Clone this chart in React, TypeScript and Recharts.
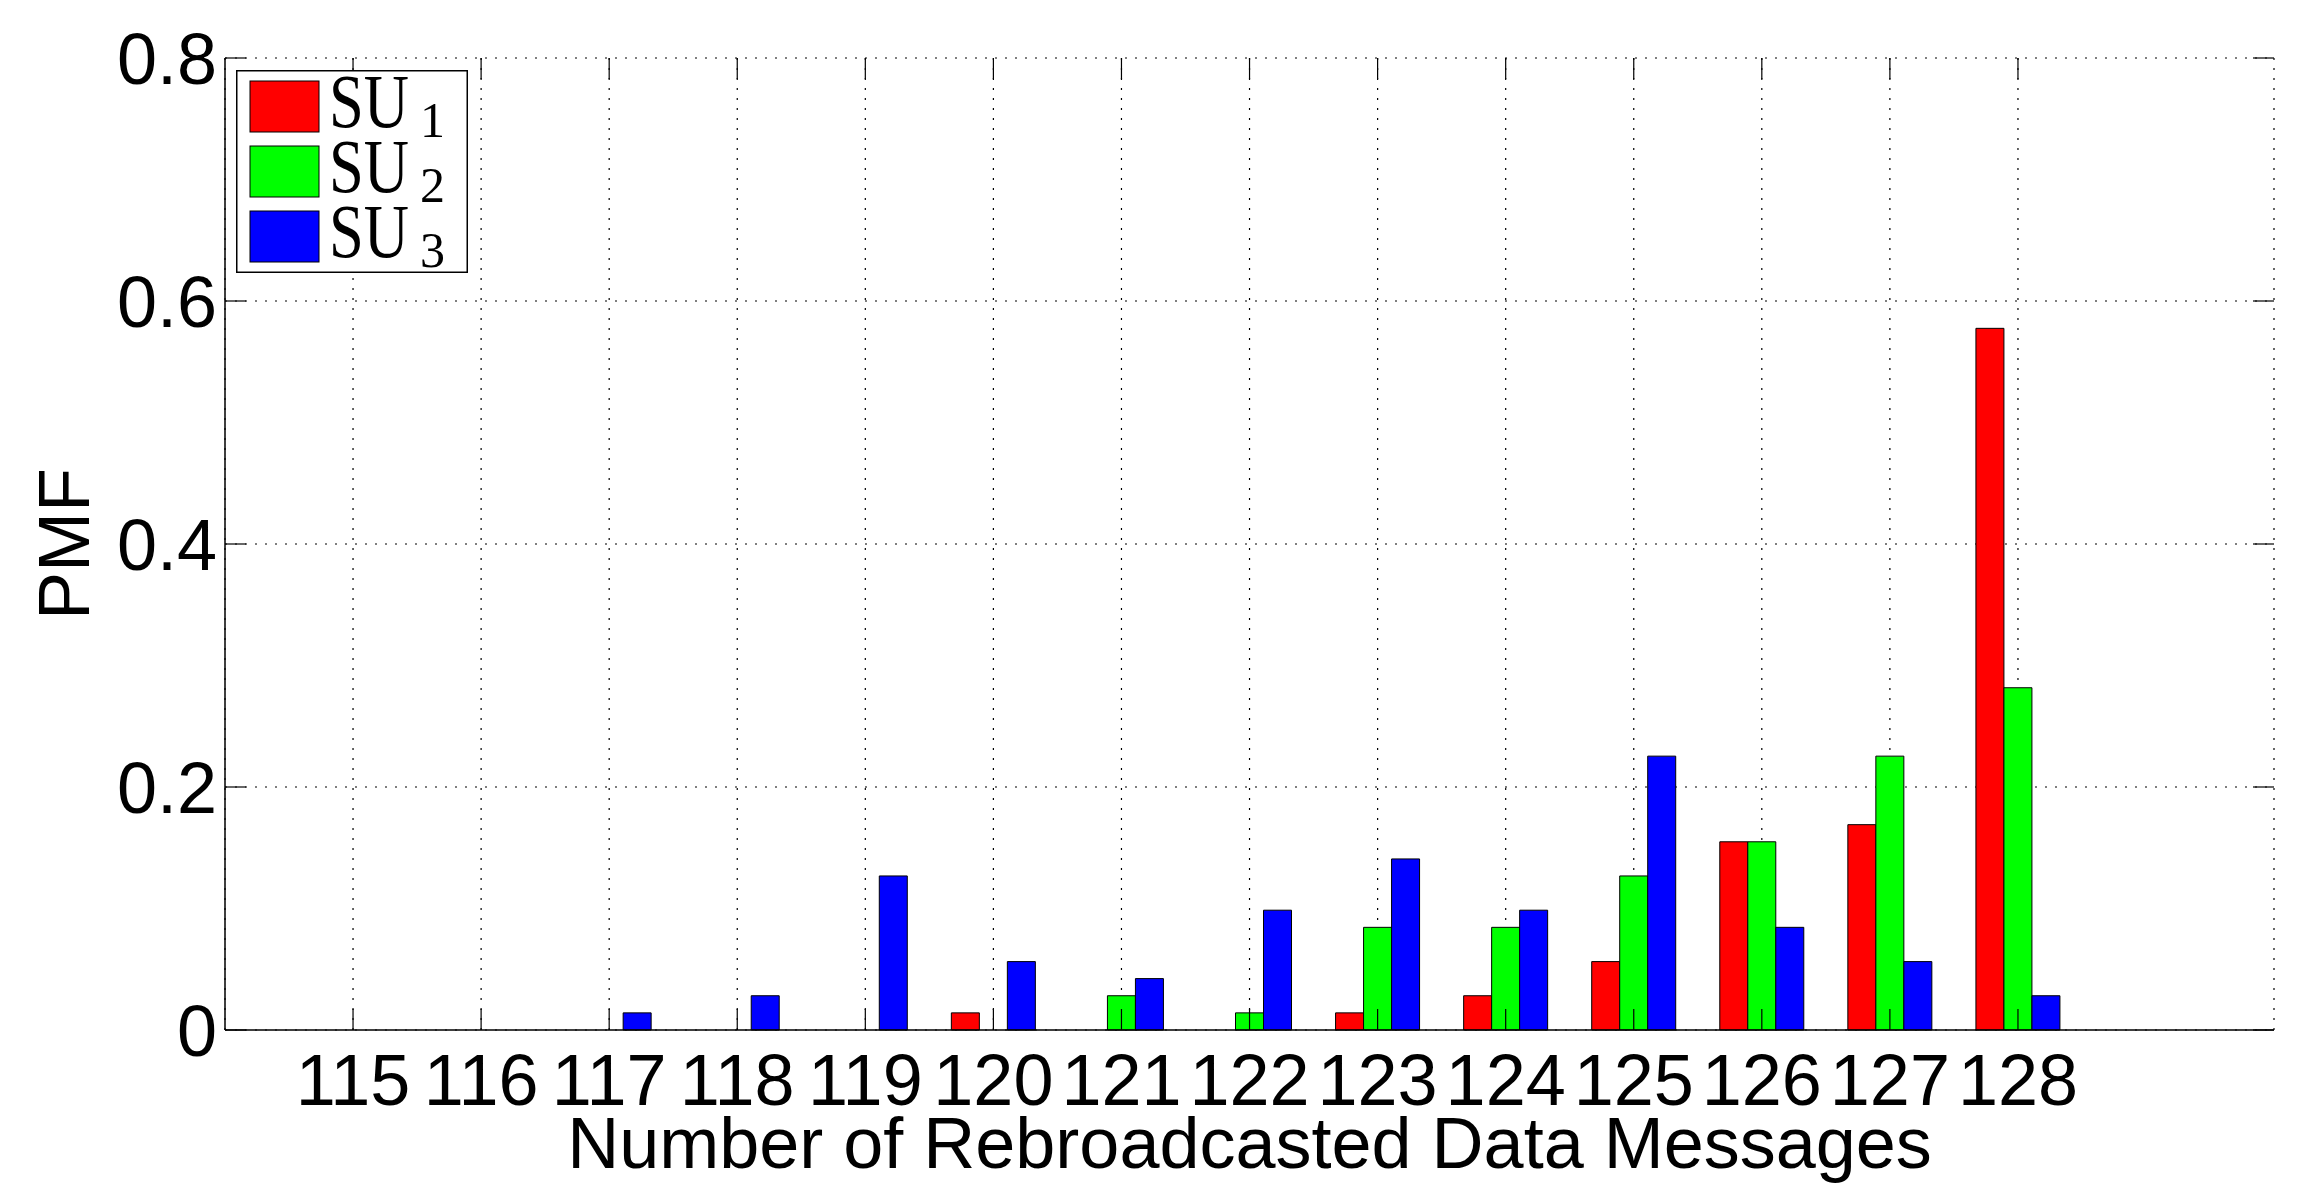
import React from "react";
import { BarChart, Bar, XAxis, YAxis, CartesianGrid, Legend, Label } from "recharts";

// number of rebroadcasted data messages (x categories)
const categories = [115, 116, 117, 118, 119, 120, 121, 122, 123, 124, 125, 126, 127, 128];

// PMF per secondary user
const su1 = [0, 0, 0, 0, 0, 0.0141, 0, 0, 0.0141, 0.0282, 0.0563, 0.1549, 0.169, 0.5775];
const su2 = [0, 0, 0, 0, 0, 0, 0.0282, 0.0141, 0.0845, 0.0845, 0.1268, 0.1549, 0.2254, 0.2817];
const su3 = [0, 0, 0.0141, 0.0282, 0.1268, 0.0563, 0.0423, 0.0986, 0.1408, 0.0986, 0.2254, 0.0845, 0.0563, 0.0282];

const seriesNames = ["SU1", "SU2", "SU3"];
const seriesColors = ["#ff0000", "#00ff00", "#0000ff"];
const yTicks = [0, 0.2, 0.4, 0.6, 0.8];

const data = categories.map((n, i) => ({ n, su1: su1[i], su2: su2[i], su3: su3[i] }));

const W = 2308;
const H = 1201;
const PLOT_TOP = 58;
const PLOT_BOTTOM = 1030;
const PLOT_LEFT = 225;
const PLOT_RIGHT = 2274;
const TICK_LEN = 21;
const FONT = "'Liberation Sans', Arial, Helvetica, sans-serif";
const SERIF = "'Liberation Serif', 'Times New Roman', serif";

// legend box (outer svg has a pad so glyph boxes never hit its edge)
const LEG_PAD = 24;
const LEG_W = 232;
const LEG_H = 203;

const XTick = (props: any) => {
  const { x, y, payload } = props;
  return (
    <g>
      <line x1={x} x2={x} y1={PLOT_BOTTOM} y2={PLOT_BOTTOM - TICK_LEN} stroke="#000" strokeWidth={1.2} />
      <line x1={x} x2={x} y1={PLOT_TOP} y2={PLOT_TOP + TICK_LEN} stroke="#000" strokeWidth={1.2} />
      <text x={x} y={y} textAnchor="middle" fontFamily={FONT} fontSize={72} fill="#000">
        {payload.value}
      </text>
    </g>
  );
};

const YTick = (props: any) => {
  const { x, y, payload } = props;
  return (
    <g>
      <line x1={PLOT_LEFT} x2={PLOT_LEFT + TICK_LEN} y1={y} y2={y} stroke="#000" strokeWidth={1.2} />
      <line x1={PLOT_RIGHT} x2={PLOT_RIGHT - TICK_LEN} y1={y} y2={y} stroke="#000" strokeWidth={1.2} />
      <text x={x} y={y + 26} textAnchor="end" fontFamily={FONT} fontSize={72} fill="#000">
        {payload.value}
      </text>
    </g>
  );
};

function LegendBox(props: any) {
  const items = props.payload || [];
  return (
    <svg width={LEG_W + 2 * LEG_PAD} height={LEG_H + 2 * LEG_PAD} style={{ display: "block", overflow: "visible" }}>
      <g transform={`translate(${LEG_PAD}, ${LEG_PAD})`}>
        <rect x={0.75} y={0.75} width={LEG_W - 1.5} height={LEG_H - 1.5} fill="#fff" stroke="#000" strokeWidth={1.5} />
        {items.map((item: any, i: number) => {
          const top = 11 + i * 65;
          const name = String(item.value);
          return (
            <g key={name}>
              <rect x={14} y={top} width={69} height={51} fill={item.color} stroke="#000" strokeWidth={1} />
              <text x={93} y={top + 46} fontFamily={SERIF} fill="#000">
                <tspan fontSize={76} textLength={80} lengthAdjust="spacingAndGlyphs">
                  {name.slice(0, 2)}
                </tspan>
                <tspan x={184} y={top + 56} fontSize={50}>
                  {name.slice(2)}
                </tspan>
              </text>
            </g>
          );
        })}
      </g>
    </svg>
  );
}

export default function App() {
  return (
    <div style={{ position: "absolute", left: 0, top: 0, width: W, height: H, background: "#fff" }}>
      <BarChart
        width={W}
        height={H}
        data={data}
        margin={{ top: PLOT_TOP, right: W - PLOT_RIGHT, left: 0, bottom: 0 }}
        barGap={0}
        barSize={28}
      >
        <CartesianGrid stroke="#000" strokeDasharray="2 8" strokeWidth={1.2} />
        <XAxis
          dataKey="n"
          type="category"
          height={H - PLOT_BOTTOM}
          padding={{ left: 64, right: 192 }}
          interval={0}
          tickSize={0}
          tickMargin={75}
          tick={<XTick />}
          axisLine={{ stroke: "#000", strokeWidth: 1.5 }}
        >
          <Label
            content={(p: any) => {
              const vb = p.viewBox || { x: PLOT_LEFT, y: PLOT_BOTTOM, width: PLOT_RIGHT - PLOT_LEFT };
              return (
                <text x={vb.x + vb.width / 2} y={vb.y + 138} textAnchor="middle" fontFamily={FONT} fontSize={72} fill="#000">
                  Number of Rebroadcasted Data Messages
                </text>
              );
            }}
          />
        </XAxis>
        <XAxis
          xAxisId="top"
          dataKey="n"
          orientation="top"
          height={0}
          tick={false}
          tickLine={false}
          axisLine={{ stroke: "#000", strokeWidth: 1.5 }}
        />
        <YAxis
          width={PLOT_LEFT}
          domain={[0, 0.8]}
          ticks={yTicks}
          interval={0}
          tickSize={0}
          tickMargin={8}
          tick={<YTick />}
          axisLine={{ stroke: "#000", strokeWidth: 1.5 }}
        >
          <Label
            content={(p: any) => {
              const vb = p.viewBox || { x: 0, y: PLOT_TOP, height: PLOT_BOTTOM - PLOT_TOP };
              const cx = vb.x + 89;
              const cy = vb.y + vb.height / 2;
              return (
                <text x={cx} y={cy} transform={`rotate(-90, ${cx}, ${cy})`} textAnchor="middle" fontFamily={FONT} fontSize={72} fill="#000">
                  PMF
                </text>
              );
            }}
          />
        </YAxis>
        <YAxis
          yAxisId="right"
          orientation="right"
          width={0}
          domain={[0, 0.8]}
          tick={false}
          tickLine={false}
          axisLine={{ stroke: "#000", strokeWidth: 1.5 }}
        />
        <Legend
          layout="horizontal"
          verticalAlign="middle"
          align="center"
          content={<LegendBox />}
          wrapperStyle={{ left: 236 - LEG_PAD, top: 70 - LEG_PAD, width: LEG_W + 2 * LEG_PAD, height: LEG_H + 2 * LEG_PAD }}
        />
        <Bar dataKey="su1" name={seriesNames[0]} fill={seriesColors[0]} stroke="#000" strokeWidth={1} isAnimationActive={false} />
        <Bar dataKey="su2" name={seriesNames[1]} fill={seriesColors[1]} stroke="#000" strokeWidth={1} isAnimationActive={false} />
        <Bar dataKey="su3" name={seriesNames[2]} fill={seriesColors[2]} stroke="#000" strokeWidth={1} isAnimationActive={false} />
      </BarChart>
    </div>
  );
}
